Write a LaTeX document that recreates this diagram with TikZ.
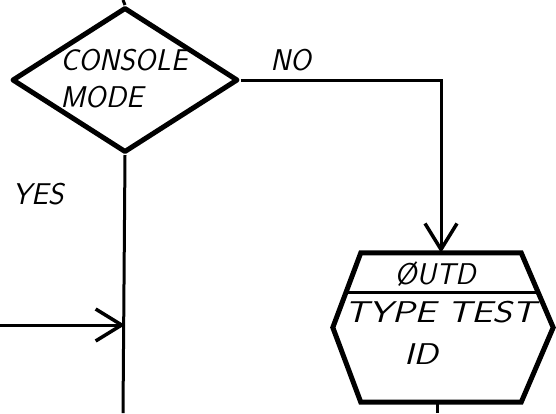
\documentclass[tikz,border=0pt]{standalone}
\usepackage{tikz}
\usetikzlibrary{
  shapes.geometric,%
  arrows.meta,%
  calc,%
  positioning
}
\tikzset{>={Straight Barb[length=26pt,width=32pt,line width=3.5pt]}}
\tikzset{hand/.style={font=\fontsize{30}{37}\selectfont\sffamily\slshape, inner sep=0pt}}
\tikzset{flow/.style={line width=3pt}}
\tikzset{decision/.style={diamond, draw, line width=5pt, line join=round,
  minimum width=226pt, minimum height=145pt, inner sep=0pt}}
\tikzset{boxline/.style={line width=5pt, line join=miter}}

\begin{document}
\begin{tikzpicture}[x=1pt, y=-1pt]
  \useasboundingbox (0,0) rectangle (556,413);
  % decision
  \node[decision] (console) at (125,80) {};
  \node[hand, align=left] (consoletext) at (124,79) {CONSOLE\\MODE};
  % output box
  \node[minimum width=160pt, minimum height=149pt, inner sep=0pt] (outd) at (441,327.5) {};
  \draw[boxline] (outd.north west) coordinate (htl) -- (outd.north east) coordinate (htr)
    -- ([xshift=32pt]outd.east) coordinate (hr) -- (outd.south east)
    -- (outd.south west) -- ([xshift=-28pt]outd.west) coordinate (hl) -- cycle;
  \draw[line width=3.5pt] ($(htl)!0.53!(hl)$) -- ($(htr)!0.53!(hr)$);
  \node[hand] (outdname) at (435,274) {ØUTD};
  \node[hand, xscale=1.25] (typetest) at (440,312) {TYPE TEST};
  \node[hand, xscale=1.2] (testid) at (421,354) {ID};
  % flow lines
  \coordinate (intop) at (123,0);
  \coordinate (inleft) at (0,325);
  \coordinate (outlow) at (123,413);
  \coordinate (outexit) at (437,413);
  \draw[flow] (intop) -- (console.north);
  \draw[flow, ->] (console.east) -- node[hand, above=8pt, pos=0.25] (no) {NO} (outd.north |- console.east) -- (outd.north);
  \draw[flow] (console.south) -- (outlow);
  \draw[flow, ->] (inleft) -- (inleft -| console.south);
  \draw[flow] (outd.south -| outexit) -- (outexit);
  \node[hand] (yes) at (38,194) {YES};
\end{tikzpicture}
\end{document}
